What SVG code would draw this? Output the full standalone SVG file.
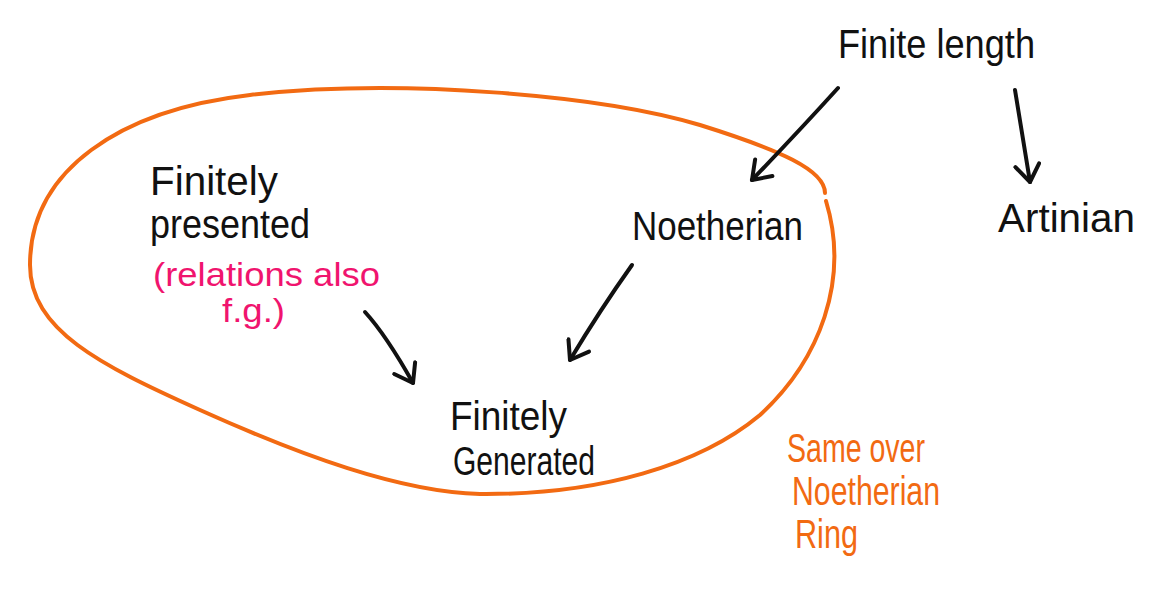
<svg xmlns="http://www.w3.org/2000/svg" width="1156" height="591" viewBox="0 0 1156 591">
<defs>
<style>
.t{font-family:"Liberation Sans",Arial,sans-serif;fill:#111;}
.big{font-size:40px;}
.pink{fill:#F0146E;font-size:33px;}
.orange{fill:#F26A12;font-size:40px;}
.conn{fill:none;stroke:#111;stroke-width:4;stroke-linecap:round;stroke-linejoin:round;}
.blob{fill:none;stroke:#F26A12;stroke-width:4;stroke-linecap:round;}
</style>
<marker id="ah" viewBox="-22 -14 26 28" refX="0" refY="0" markerWidth="26" markerHeight="28" markerUnits="userSpaceOnUse" orient="auto">
<path d="M -17 -12 L 0 0 L -17 12" fill="none" stroke="#111" stroke-width="4" stroke-linecap="round" stroke-linejoin="round"/>
</marker>
</defs>
<rect width="1156" height="591" fill="#fff"/>
<g id="region">
<path class="blob" d="M 826 201 C 850 280, 820 360, 760 415 C 700 465, 600 495, 480 494 C 400 492, 300 455, 200 410 C 100 365, 30 330, 30 265 C 30 170, 120 110, 250 95 C 400 78, 600 95, 700 125 C 780 150, 825 170, 825 193"/>
</g>
<g id="connectors">
<path class="conn" marker-end="url(#ah)" d="M 838 88 Q 800 130 752 180"/>
<path class="conn" marker-end="url(#ah)" d="M 1015 90 L 1030 182"/>
<path class="conn" marker-end="url(#ah)" d="M 632 265 Q 600 310 570 360"/>
<path class="conn" marker-end="url(#ah)" d="M 365 312 Q 386 335 413 383"/>
</g>
<g id="finite-length"><text class="t big" x="838" y="58" textLength="197" lengthAdjust="spacingAndGlyphs">Finite length</text></g>
<g id="artinian"><text class="t big" x="998" y="232" textLength="137" lengthAdjust="spacingAndGlyphs">Artinian</text></g>
<g id="noetherian"><text class="t big" x="632" y="240" textLength="171" lengthAdjust="spacingAndGlyphs">Noetherian</text></g>
<g id="finitely-presented">
<text class="t big" x="150" y="195" textLength="128" lengthAdjust="spacingAndGlyphs">Finitely</text>
<text class="t big" x="150" y="238" textLength="160" lengthAdjust="spacingAndGlyphs">presented</text>
<text class="t pink" x="153" y="286" textLength="227" lengthAdjust="spacingAndGlyphs">(relations also</text>
<text class="t pink" x="222" y="322" textLength="63" lengthAdjust="spacingAndGlyphs">f.g.)</text>
</g>
<g id="finitely-generated">
<text class="t big" x="450" y="430" textLength="117" lengthAdjust="spacingAndGlyphs">Finitely</text>
<text class="t big" x="453" y="475" textLength="142" lengthAdjust="spacingAndGlyphs">Generated</text>
</g>
<g id="note">
<text class="t orange" x="787" y="462" textLength="138" lengthAdjust="spacingAndGlyphs">Same over</text>
<text class="t orange" x="792" y="505" textLength="148" lengthAdjust="spacingAndGlyphs">Noetherian</text>
<text class="t orange" x="795" y="548" textLength="63" lengthAdjust="spacingAndGlyphs">Ring</text>
</g>
</svg>
